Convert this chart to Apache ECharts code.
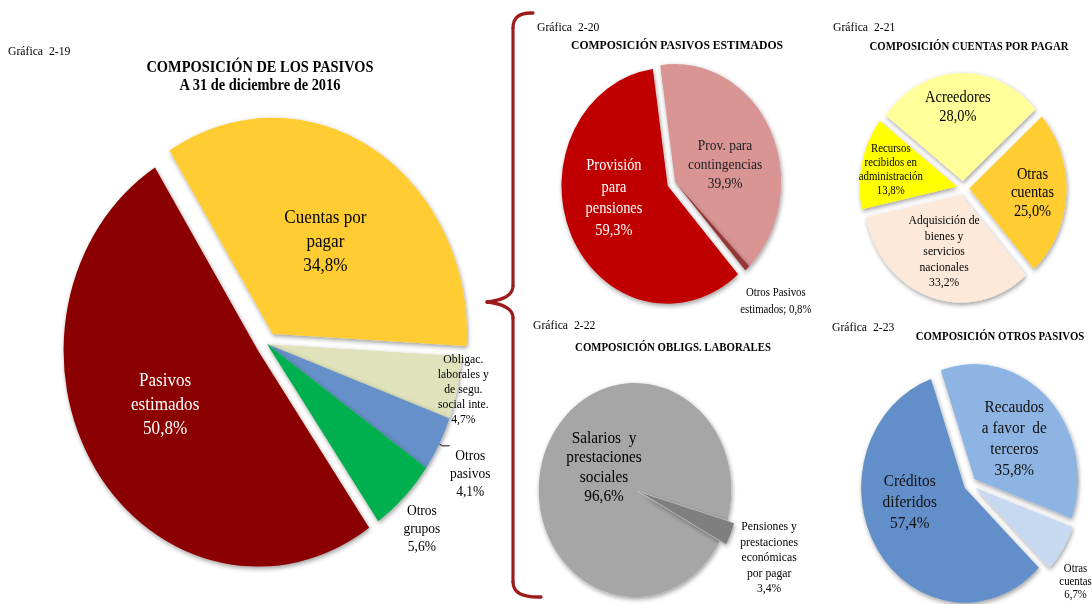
<!DOCTYPE html>
<html><head><meta charset="utf-8">
<script src="https://cdn.jsdelivr.net/npm/echarts@6/dist/echarts.min.js"></script>
<style>
html,body{margin:0;padding:0;background:#fff;overflow:hidden}
#wrap{width:1092px;height:604px;overflow:hidden;position:relative;background:#fff}
#c{width:1214px;height:604px;transform:scaleX(0.9);transform-origin:0 0}
</style>
</head><body><div id="wrap"><div id="c"></div></div>
<script>
// ---------- DATA ----------
// Gráfica 2-19
const g19Cats = ['Cuentas por\npagar', 'Obligac.\nlaborales y\nde segu.\nsocial inte.', 'Otros\npasivos', 'Otros\ngrupos', 'Pasivos\nestimados'];
const g19Vals = [34.8, 4.7, 4.1, 5.6, 50.8];
// Gráfica 2-20
const g20Cats = ['Prov. para\ncontingencias', 'Otros Pasivos\nestimados', 'Provisión\npara\npensiones'];
const g20Vals = [39.9, 0.8, 59.3];
// Gráfica 2-21
const g21Cats = ['Acreedores', 'Otras\ncuentas', 'Adquisición de\nbienes y\nservicios\nnacionales', 'Recursos\nrecibidos en\nadministración'];
const g21Vals = [28.0, 25.0, 33.2, 13.8];
// Gráfica 2-22
const g22Cats = ['Salarios  y\nprestaciones\nsociales', 'Pensiones y\nprestaciones\neconómicas\npor pagar'];
const g22Vals = [96.6, 3.4];
// Gráfica 2-23
const g23Cats = ['Recaudos\na favor  de\nterceros', 'Otras\ncuentas', 'Créditos\ndiferidos'];
const g23Vals = [35.8, 6.7, 57.4];

// Texts
const grafLabels = ['Gráfica  2-19', 'Gráfica  2-20', 'Gráfica  2-21', 'Gráfica  2-22', 'Gráfica  2-23'];
const chartTitles = ['COMPOSICIÓN DE LOS PASIVOS', 'COMPOSICIÓN PASIVOS ESTIMADOS', 'COMPOSICIÓN CUENTAS POR PAGAR', 'COMPOSICIÓN OBLIGS. LABORALES', 'COMPOSICIÓN OTROS PASIVOS'];
const mainSubtitle = 'A 31 de diciembre de 2016';

// ---------- LAYOUT / STYLE ----------
const SX = 0.9; // horizontal compression of the whole picture
const FONT = 'Liberation Serif';
function fmt(v){ return v.toFixed(1).replace('.', ',') + '%'; }

const charts = [
  { cats: g19Cats, vals: g19Vals, center: [267, 344], r: 216, start: 122, offset: 12,
    colors: ['#FFCC33', '#DFE2BA', '#6690C9', '#00B050', '#8B0000'],
    selected: [1, 0, 0, 0, 1],
    labels: [
      { pos: 'inside', size: 19, lh: 24, color: '#000', dx: 2, dy: 3 },
      { pos: 'outside', size: 13, lh: 15, color: '#000', dx: 1.5, dy: 1, align: 'center', va: 'middle' },
      { pos: 'outside', size: 15, lh: 18, color: '#000', dx: 16, dy: 0, align: 'center', va: 'top', line: [4, 8] },
      { pos: 'outside', size: 15, lh: 18, color: '#000', dx: 13, dy: 4, align: 'center', va: 'top' },
      { pos: 'inside', size: 19, lh: 24, color: '#fff', dx: -9.5, dy: -8 }
    ] },
  { cats: g20Cats, vals: g20Vals, center: [675, 182], r: 118, start: 98, offset: 9,
    colors: ['#D99594', '#953735', '#C00000'],
    selected: [0, 0, 1],
    labels: [
      { pos: 'inside', size: 15, lh: 19, color: '#1a1a1a', dx: 0, dy: 9 },
      { pos: 'outside', size: 12, lh: 17, color: '#000', dx: 24, dy: 32, align: 'center', va: 'middle', sep: '; ' },
      { pos: 'inside', size: 16, lh: 21.5, color: '#fff', dx: -3, dy: -15 }
    ] },
  { cats: g21Cats, vals: g21Vals, center: [963, 188], r: 108, start: 142.5, offset: 7,
    colors: ['#FFFF99', '#FFCC33', '#FDE9D9', '#FFFF00'],
    selected: [1, 1, 1, 1],
    labels: [
      { pos: 'inside', size: 16, lh: 19, color: '#000', dx: -3, dy: -18 },
      { pos: 'inside', size: 16, lh: 18.5, color: '#000', dx: 12, dy: 0 },
      { pos: 'inside', size: 13, lh: 15.5, color: '#000', dx: -1, dy: 2 },
      { pos: 'inside', size: 12, lh: 14, color: '#000', dx: -16, dy: -5 }
    ] },
  { cats: g22Cats, vals: g22Vals, center: [635, 490], r: 107, start: 331.4, offset: 8,
    colors: ['#A6A6A6', '#7F7F7F'],
    selected: [0, 1],
    labels: [
      { pos: 'inside', size: 17, lh: 19.5, color: '#000', dx: 16, dy: -2 },
      { pos: 'outside', size: 13, lh: 15.5, color: '#000', dx: 34, dy: 23, align: 'center', va: 'middle' }
    ] },
  { cats: g23Cats, vals: g23Vals, center: [970, 484], r: 115, start: 109, offset: 7,
    colors: ['#8EB4E3', '#C6D9F1', '#628FC9'],
    selected: [1, 1, 1],
    labels: [
      { pos: 'inside', size: 17, lh: 21, color: '#111', dx: 1, dy: 1 },
      { pos: 'outside', size: 12, lh: 13, color: '#000', dx: 8, dy: 13, align: 'center', va: 'top' },
      { pos: 'inside', size: 17, lh: 21, color: '#111', dx: -9, dy: -19 }
    ] }
];

// text positions (screen px)
const grafPos = [[8, 51], [537, 27], [833, 27], [533, 325], [832, 327]];
const titlePos = [[260, 66, 16], [677, 45, 13], [969, 46, 12], [673, 347, 12], [1000, 336, 12]];

const graphics = [];
grafLabels.forEach((t, i) => {
  graphics.push({ type: 'text', x: grafPos[i][0] / SX, y: grafPos[i][1],
    style: { text: t, font: '13px "' + FONT + '"', fill: '#000', align: 'left', verticalAlign: 'middle' } });
});
chartTitles.forEach((t, i) => {
  graphics.push({ type: 'text', x: titlePos[i][0] / SX, y: titlePos[i][1],
    style: { text: t, font: 'bold ' + titlePos[i][2] + 'px "' + FONT + '"', fill: '#000', align: 'center', verticalAlign: 'middle' } });
});
graphics.push({ type: 'text', x: 260 / SX, y: 84,
  style: { text: mainSubtitle, font: 'bold 16px "' + FONT + '"', fill: '#000', align: 'center', verticalAlign: 'middle' } });
// curly brace
const bx = 513 / SX, tipx = 487 / SX, tx = 533 / SX, bxe = 541 / SX;
const braceStyle = { fill: 'none', stroke: '#9C1B1B', lineWidth: 3.5, lineCap: 'round' };
graphics.push({ type: 'bezierCurve', shape: { x1: tx, y1: 13, cpx1: bx, cpy1: 12, x2: bx, y2: 28 }, style: braceStyle });
graphics.push({ type: 'line', shape: { x1: bx, y1: 28, x2: bx, y2: 286 }, style: braceStyle });
graphics.push({ type: 'bezierCurve', shape: { x1: bx, y1: 286, cpx1: bx, cpy1: 299, x2: tipx, y2: 302 }, style: braceStyle });
graphics.push({ type: 'bezierCurve', shape: { x1: tipx, y1: 302, cpx1: bx, cpy1: 305, x2: bx, y2: 318 }, style: braceStyle });
graphics.push({ type: 'line', shape: { x1: bx, y1: 318, x2: bx, y2: 582 }, style: braceStyle });
graphics.push({ type: 'bezierCurve', shape: { x1: bx, y1: 582, cpx1: bx, cpy1: 598, x2: bxe, y2: 597 }, style: braceStyle });

const series = charts.map((c) => ({
  type: 'pie',
  center: [c.center[0] / SX, c.center[1]],
  radius: c.r,
  startAngle: c.start,
  clockwise: true,
  selectedMode: 'multiple',
  selectedOffset: c.offset,
  avoidLabelOverlap: false,
  animation: false,
  emphasis: { disabled: true },
  itemStyle: { shadowBlur: 5, shadowColor: 'rgba(0,0,0,0.4)', shadowOffsetX: 1, shadowOffsetY: 2, borderWidth: 0 },
  label: { show: true, position: 'inside', fontFamily: FONT },
  data: c.cats.map((name, i) => {
    const L = c.labels[i];
    return {
      name: name, value: c.vals[i], selected: !!c.selected[i],
      itemStyle: { color: c.colors[i] },
      label: { show: true, position: L.pos, fontSize: L.size, lineHeight: L.lh, color: L.color, fontFamily: FONT,
        distanceToLabelLine: 5,
        formatter: (p) => p.name + (L.sep || '\n') + fmt(p.value) },
      labelLine: L.line ? { show: true, length: L.line[0], length2: L.line[1], lineStyle: { color: '#000', width: 1 } }
                        : { show: false, length: 0, length2: 0 }
    };
  }),
  labelLayout: (p) => {
    const L = c.labels[p.dataIndex];
    const o = { dx: (L.dx || 0) / SX, dy: L.dy || 0 };
    if (L.align) o.align = L.align;
    if (L.va) o.verticalAlign = L.va;
    return o;
  }
}));

const chart = echarts.init(document.getElementById('c'), null, { renderer: 'svg' });
chart.setOption({
  animation: false,
  backgroundColor: '#fff',
  graphic: graphics,
  series: series
});
</script>
</body></html>
